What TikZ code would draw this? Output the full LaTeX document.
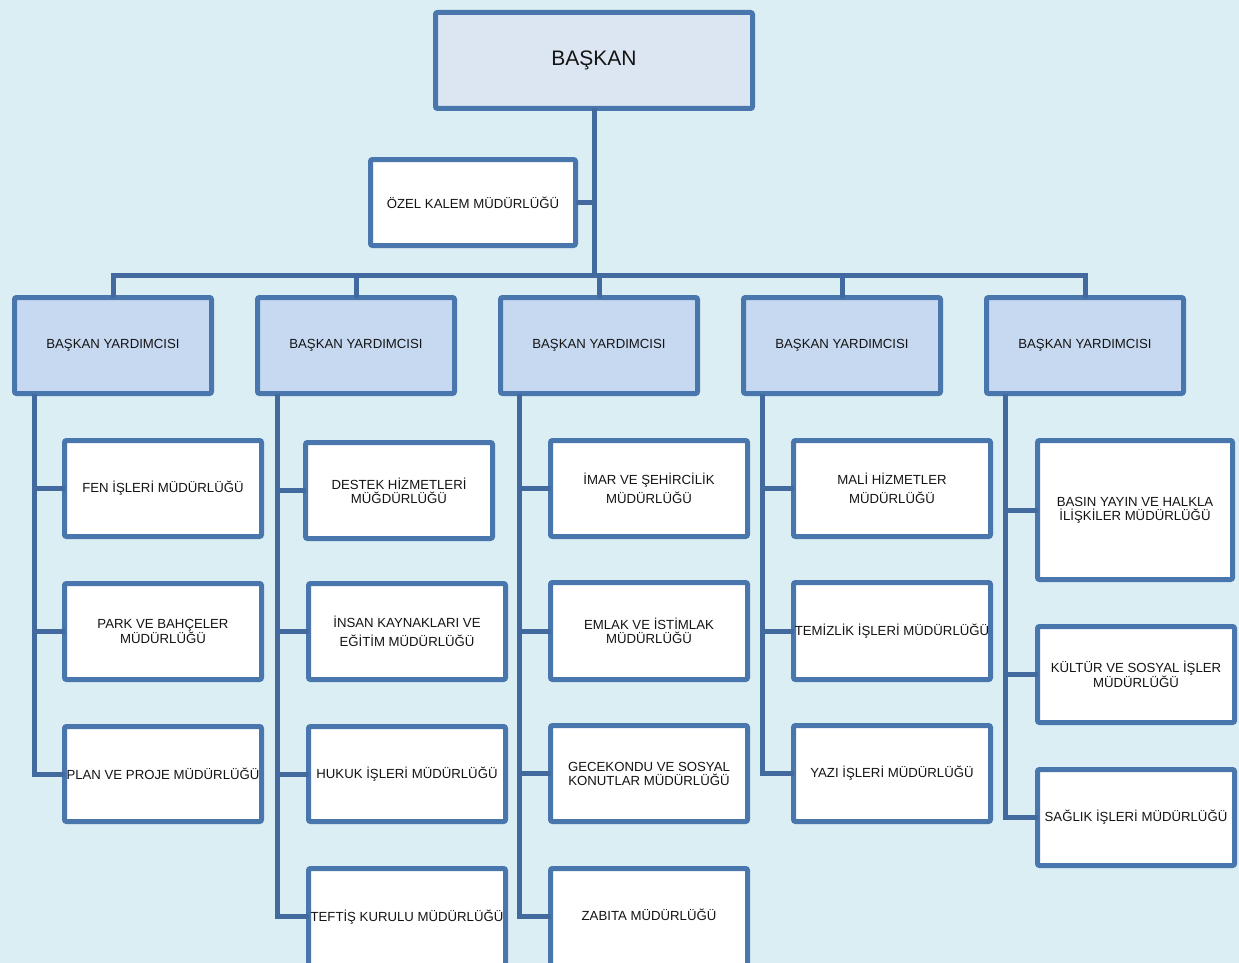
\documentclass[tikz,border=0pt]{standalone}
\usepackage{fontspec}
\setmainfont{Liberation Sans}
\definecolor{bg}{RGB}{219,238,244}
\definecolor{bd}{RGB}{74,118,174}
\definecolor{ln}{RGB}{66,106,158}
\definecolor{headfill}{RGB}{220,230,242}
\definecolor{vpfill}{RGB}{198,217,241}
\definecolor{txt}{RGB}{20,20,20}
\newcommand{\orgbox}[7]{%
  \node[#6, minimum width={#4-#2-5}, minimum height={#5-#3-5}] (#1) at ({(#2+#4)/2},{(#3+#5)/2}) {#7};}
\tikzset{
  basebox/.style={draw=bd, line width=5pt, rounded corners=2pt, inner sep=0pt, outer sep=0pt, align=center, text=txt},
  headbox/.style={basebox, fill=headfill, font=\fontsize{21}{25}\selectfont},
  vpbox/.style={basebox, fill=vpfill, font=\fontsize{13.2}{14}\selectfont},
  unitbox/.style={basebox, fill=white, font=\fontsize{13.2}{14}\selectfont},
  widebox/.style={unitbox, font=\fontsize{13.2}{19}\selectfont},
  conn/.style={draw=ln, line width=5pt, line join=miter}
}
\begin{document}
\begin{tikzpicture}[x=1pt,y=-1pt]
\fill[bg] (0,0) rectangle (1239,963);
\useasboundingbox (0,0) rectangle (1239,963);
\clip (0,0) rectangle (1239,963);
% connector coordinates
\coordinate (busL) at (113,275);
\coordinate (busR) at (1085,275);
\coordinate (v1) at (34,394);
\coordinate (v2) at (277,394);
\coordinate (v3) at (519,394);
\coordinate (v4) at (762,394);
\coordinate (v5) at (1005,394);
% boxes
\orgbox{baskan}{433}{10}{755}{111}{headbox}{BAŞKAN}
\orgbox{ozel}{368}{157}{578}{248}{unitbox}{ÖZEL KALEM MÜDÜRLÜĞÜ}
\orgbox{vp1}{12}{295}{214}{396}{vpbox}{BAŞKAN YARDIMCISI}
\orgbox{vp2}{255}{295}{457}{396}{vpbox}{BAŞKAN YARDIMCISI}
\orgbox{vp3}{498}{295}{700}{396}{vpbox}{BAŞKAN YARDIMCISI}
\orgbox{vp4}{741}{295}{943}{396}{vpbox}{BAŞKAN YARDIMCISI}
\orgbox{vp5}{984}{295}{1186}{396}{vpbox}{BAŞKAN YARDIMCISI}
% column 1
\orgbox{fen}{62}{438}{264}{539}{unitbox}{FEN İŞLERİ MÜDÜRLÜĞÜ}
\orgbox{park}{62}{581}{264}{682}{unitbox}{PARK VE BAHÇELER\\MÜDÜRLÜĞÜ}
\orgbox{plan}{62}{724}{264}{824}{unitbox}{PLAN VE PROJE MÜDÜRLÜĞÜ}
% column 2
\orgbox{destek}{303}{440}{495}{541}{unitbox}{DESTEK HİZMETLERİ\\MÜĞDÜRLÜĞÜ}
\orgbox{insan}{306}{581}{508}{682}{widebox}{İNSAN KAYNAKLARI VE\\EĞİTİM MÜDÜRLÜĞÜ}
\orgbox{hukuk}{306}{724}{508}{824}{unitbox}{HUKUK İŞLERİ MÜDÜRLÜĞÜ}
\orgbox{teftis}{306}{866}{508}{976}{unitbox}{\raisebox{10pt}{TEFTİŞ KURULU MÜDÜRLÜĞÜ}}
% column 3
\orgbox{imar}{548}{438}{750}{539}{widebox}{İMAR VE ŞEHİRCİLİK\\MÜDÜRLÜĞÜ}
\orgbox{emlak}{548}{580}{750}{682}{unitbox}{EMLAK VE İSTİMLAK\\MÜDÜRLÜĞÜ}
\orgbox{gece}{548}{723}{750}{824}{unitbox}{GECEKONDU VE SOSYAL\\KONUTLAR MÜDÜRLÜĞÜ}
\orgbox{zabita}{548}{866}{750}{976}{unitbox}{\raisebox{12pt}{ZABITA MÜDÜRLÜĞÜ}}
% column 4
\orgbox{mali}{791}{438}{993}{539}{widebox}{MALİ HİZMETLER\\MÜDÜRLÜĞÜ}
\orgbox{temiz}{791}{580}{993}{682}{unitbox}{TEMİZLİK İŞLERİ MÜDÜRLÜĞÜ}
\orgbox{yazi}{791}{723}{993}{824}{unitbox}{YAZI İŞLERİ MÜDÜRLÜĞÜ}
% column 5
\orgbox{basin}{1035}{438}{1235}{582}{unitbox}{BASIN YAYIN VE HALKLA\\İLİŞKİLER MÜDÜRLÜĞÜ}
\orgbox{kultur}{1035}{624}{1237}{725}{unitbox}{KÜLTÜR VE SOSYAL İŞLER\\MÜDÜRLÜĞÜ}
\orgbox{saglik}{1035}{767}{1237}{868}{unitbox}{SAĞLIK İŞLERİ MÜDÜRLÜĞÜ}
% connectors
\draw[conn] (baskan.south) -- (baskan.south |- busL);
\draw[conn] (ozel.east) -- (ozel.east -| baskan.south);
\draw[conn, line cap=rect] (busL) -- (busR);
\foreach \v in {vp1,vp2,vp3,vp4,vp5}
  \draw[conn] (\v.north) -- (\v.north |- busL);
\draw[conn] (v1) |- (plan.west);
\draw[conn] (v1 |- fen.west) -- (fen.west);
\draw[conn] (v1 |- park.west) -- (park.west);
\draw[conn] (v2) |- ([yshift=5pt]teftis.west);
\draw[conn] (v2 |- destek.west) -- (destek.west);
\draw[conn] (v2 |- insan.west) -- (insan.west);
\draw[conn] (v2 |- hukuk.west) -- (hukuk.west);
\draw[conn] (v3) |- ([yshift=5pt]zabita.west);
\draw[conn] (v3 |- imar.west) -- (imar.west);
\draw[conn] (v3 |- emlak.west) -- (emlak.west);
\draw[conn] (v3 |- gece.west) -- (gece.west);
\draw[conn] (v4) |- (yazi.west);
\draw[conn] (v4 |- mali.west) -- (mali.west);
\draw[conn] (v4 |- temiz.west) -- (temiz.west);
\draw[conn] (v5) |- (saglik.west);
\draw[conn] (v5 |- basin.west) -- (basin.west);
\draw[conn] (v5 |- kultur.west) -- (kultur.west);
\end{tikzpicture}
\end{document}
